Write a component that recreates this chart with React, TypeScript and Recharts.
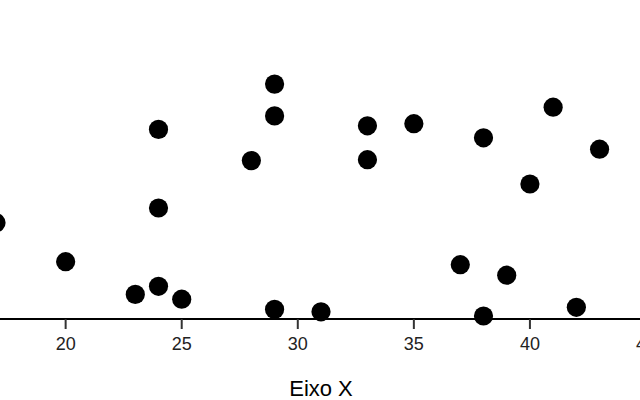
import { ScatterChart, Scatter, XAxis, YAxis } from 'recharts'

// values (y axis is hidden, so y is on a 0-100 scale)
const xValues = [17, 20, 23, 24, 25, 24, 24, 28, 29, 29, 29, 31, 33, 33, 35, 37, 38, 38, 39, 40, 41, 42, 43]
const yValues = [32.1, 19.1, 8.2, 10.9, 6.6, 37, 63.2, 52.8, 78.3, 67.7, 3.2, 2.4, 64.4, 53.1, 65.1, 18.1, 60.4, 1, 14.6, 45, 70.6, 3.9, 56.6]
const xTicks = [20, 25, 30, 35, 40, 45]
const xLabel = 'Eixo X'

const points = xValues.map((x, i) => ({ x, y: yValues[i] }))

const Dot = (props: any) => <circle cx={props.cx} cy={props.cy} r={9.6} fill="#000" />

export default function App() {
  return (
    <div style={{ position: 'absolute', left: 0, top: 0, width: 640, height: 400, overflow: 'hidden', background: '#fff' }}>
      <div style={{ marginLeft: -4 }}>
        <ScatterChart width={700} height={400} margin={{ top: 19, right: 50, bottom: 0, left: 0 }}>
          <XAxis
            type="number"
            dataKey="x"
            domain={[17, 45]}
            ticks={xTicks}
            height={81}
            axisLine={{ stroke: '#000', strokeWidth: 2 }}
            tickLine={{ stroke: '#333', strokeWidth: 2 }}
            tickSize={10}
            tickMargin={8}
            interval={0}
            tick={{ fill: '#222', fontSize: 18, fontFamily: 'Liberation Sans, Arial, sans-serif' }}
            allowDataOverflow
            label={{
              value: xLabel,
              position: 'insideBottom',
              offset: 4,
              style: { fill: '#000', fontSize: 22, fontFamily: 'Liberation Sans, Arial, sans-serif' },
            }}
          />
          <YAxis type="number" dataKey="y" domain={[0, 100]} hide />
          <Scatter data={points} fill="#000" shape={Dot} isAnimationActive={false} />
        </ScatterChart>
      </div>
    </div>
  )
}
